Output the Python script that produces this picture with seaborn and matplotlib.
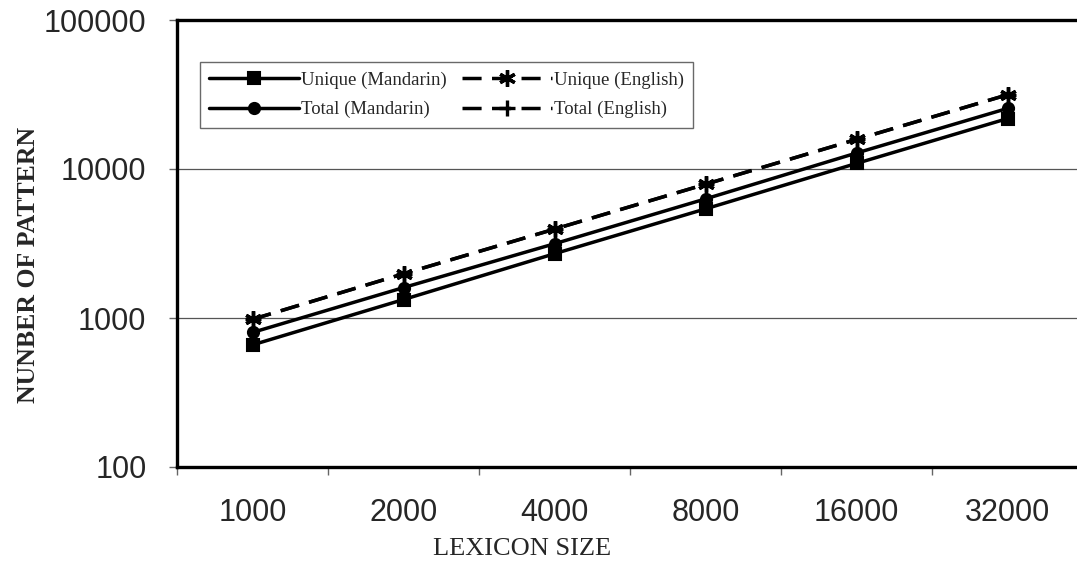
import matplotlib
matplotlib.use("Agg")
import matplotlib.pyplot as plt
import seaborn as sns
import pandas as pd
from matplotlib.ticker import FixedLocator, NullFormatter, FixedFormatter

# ---- data ----
lexicon_sizes = ["1000", "2000", "4000", "8000", "16000", "32000"]
unique_mandarin = [660, 1330, 2700, 5400, 10900, 21800]
total_mandarin = [800, 1600, 3150, 6300, 12800, 25500]
unique_english = [980, 1980, 3950, 7900, 15800, 31500]
total_english = [980, 1980, 3950, 7900, 15800, 31500]
y_ticks = [100, 1000, 10000, 100000]

series = [
    ("Unique (Mandarin)", unique_mandarin),
    ("Total (Mandarin)", total_mandarin),
    ("Unique (English)", unique_english),
    ("Total (English)", total_english),
]

rows = []
for name, vals in series:
    for cat, v in zip(lexicon_sizes, vals):
        rows.append({"size": cat, "count": v, "series": name})
df = pd.DataFrame(rows)

sns.set_theme(style="white")
plt.rcParams["font.family"] = ["Liberation Serif", "DejaVu Serif"]

fig = plt.figure(figsize=(10.77, 5.65), dpi=100)
ax = fig.add_axes([177 / 1077, 1 - 467 / 565, 906 / 1077, 447 / 565])

dash = (0, (5.5, 3))
styles = {
    "Unique (Mandarin)": dict(marker="s", ls="-", ms=8, mew=1.5),
    "Total (Mandarin)": dict(marker="o", ls="-", ms=8, mew=1.5),
    "Unique (English)": dict(marker=(6, 2, 0), ls=dash, ms=12, mew=2.4),
    "Total (English)": dict(marker="+", ls=dash, ms=12, mew=2.4),
}

for name, _ in series:
    st = styles[name]
    sub = df[df["series"] == name]
    sns.lineplot(data=sub, x="size", y="count", ax=ax, color="black",
                 linewidth=2.5, linestyle=st["ls"], marker=st["marker"],
                 markersize=st["ms"], markeredgewidth=st["mew"],
                 markeredgecolor="black", markerfacecolor="black",
                 label=name, sort=False)

ax.set_yscale("log")
ax.set_ylim(100, 100000)
ax.set_xlim(-0.5, 5.5)

# y ticks
ax.yaxis.set_major_locator(FixedLocator(y_ticks))
ax.yaxis.set_major_formatter(FixedFormatter([str(t) for t in y_ticks]))
ax.yaxis.set_minor_locator(FixedLocator([]))
ax.tick_params(axis="y", which="major", left=True, length=6, width=1,
               color="#666666", direction="out", labelsize=22, pad=16)
for lab in ax.get_yticklabels():
    lab.set_fontfamily("Liberation Sans")

# x ticks: labels at category centers, tick marks at boundaries
ax.set_xticks(range(len(lexicon_sizes)))
ax.set_xticklabels(lexicon_sizes)
ax.xaxis.set_minor_locator(FixedLocator([i - 0.5 for i in range(len(lexicon_sizes) + 1)]))
ax.xaxis.set_minor_formatter(NullFormatter())
ax.tick_params(axis="x", which="major", bottom=False, length=0, labelsize=22, pad=22)
ax.tick_params(axis="x", which="minor", bottom=True, length=6, width=1,
               color="#666666", direction="out")
for lab in ax.get_xticklabels():
    lab.set_fontfamily("Liberation Sans")

# grid
for g in [1000, 10000]:
    ax.axhline(g, color="#555555", linewidth=0.9, zorder=0)

for side in ["left", "bottom", "top"]:
    ax.spines[side].set_visible(True)
    ax.spines[side].set_color("black")
    ax.spines[side].set_linewidth(2.4)
ax.spines["right"].set_visible(False)

ax.set_xlabel("LEXICON SIZE", fontsize=19)
ax.xaxis.set_label_coords((522 - 177) / 906, -(538 - 467) / 447)
ax.set_ylabel("NUNBER OF PATTERN", fontsize=18.5, fontweight="bold")
ax.yaxis.set_label_coords((40 - 177) / 906, 1 - (265 - 20) / 447)

leg = ax.legend(ncol=2, loc="upper left",
                bbox_to_anchor=((200 - 177) / 906, 1 - (62 - 20) / 447),
                frameon=True, fancybox=False, edgecolor="#444444",
                fontsize=13.5, handlelength=4.8, columnspacing=0.8,
                handletextpad=0.1, borderpad=0.5, labelspacing=0.65,
                borderaxespad=0)
leg.get_frame().set_linewidth(1.0)

fig.savefig("out.png", dpi=100)
